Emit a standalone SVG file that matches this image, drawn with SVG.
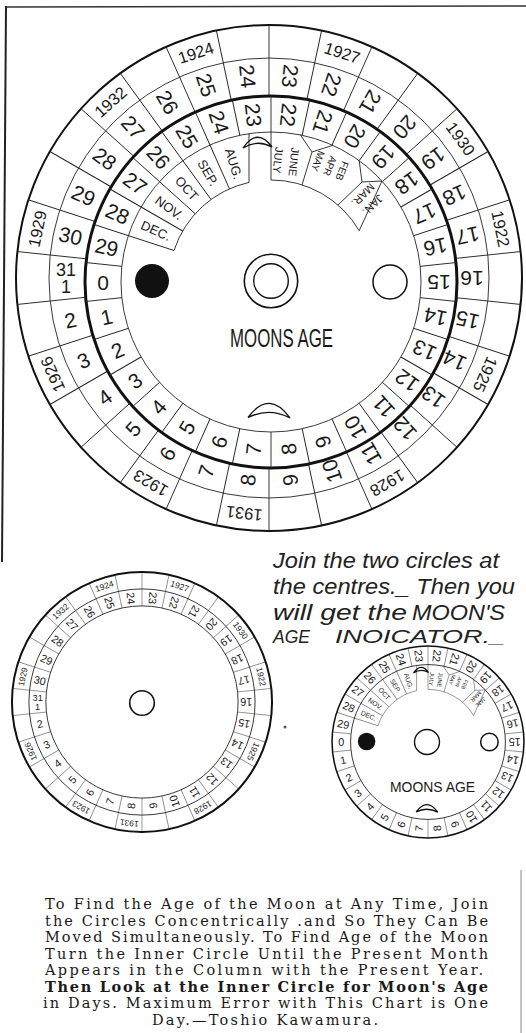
<svg xmlns="http://www.w3.org/2000/svg" width="526" height="1033" viewBox="0 0 526 1033">
<style>
.t{fill:none;stroke:#222;stroke-width:0.9;vector-effect:non-scaling-stroke}
.k{fill:none;stroke:#111;stroke-width:2;vector-effect:non-scaling-stroke}
.n text{font-family:"Liberation Sans",Arial,sans-serif;font-size:21px;text-anchor:middle;dominant-baseline:central;fill:#1a1a1a}
.y text{font-size:16.5px}
.m text{font-size:13px}
.s text{font-size:11px}
.f text{font-size:10px}
.hand{font-family:"Liberation Sans",Arial,sans-serif;font-style:italic;font-size:22px;fill:#222}
.p{font-family:"DejaVu Serif","Liberation Serif",serif;font-size:14.5px;fill:#1a1a1a}
</style>
<defs>
<g id="outerRings">
 <circle r="253" class="k"/>
 <circle r="220" class="t"/>
 <g class="t">
  <line y1="-175" y2="-253" transform="rotate(0)"/><line y1="-175" y2="-253" transform="rotate(12)"/><line y1="-175" y2="-253" transform="rotate(24)"/><line y1="-175" y2="-253" transform="rotate(36)"/><line y1="-175" y2="-253" transform="rotate(48)"/><line y1="-175" y2="-253" transform="rotate(60)"/><line y1="-175" y2="-253" transform="rotate(72)"/><line y1="-175" y2="-253" transform="rotate(84)"/><line y1="-175" y2="-253" transform="rotate(96)"/><line y1="-175" y2="-253" transform="rotate(108)"/><line y1="-175" y2="-253" transform="rotate(120)"/><line y1="-175" y2="-253" transform="rotate(132)"/><line y1="-175" y2="-253" transform="rotate(144)"/><line y1="-175" y2="-253" transform="rotate(156)"/><line y1="-175" y2="-253" transform="rotate(168)"/><line y1="-175" y2="-253" transform="rotate(180)"/><line y1="-175" y2="-253" transform="rotate(192)"/><line y1="-175" y2="-253" transform="rotate(204)"/><line y1="-175" y2="-253" transform="rotate(216)"/><line y1="-175" y2="-253" transform="rotate(228)"/><line y1="-175" y2="-253" transform="rotate(240)"/><line y1="-175" y2="-253" transform="rotate(252)"/><line y1="-175" y2="-253" transform="rotate(264)"/><line y1="-175" y2="-253" transform="rotate(276)"/><line y1="-175" y2="-253" transform="rotate(288)"/><line y1="-175" y2="-253" transform="rotate(300)"/><line y1="-175" y2="-253" transform="rotate(312)"/><line y1="-175" y2="-253" transform="rotate(324)"/><line y1="-175" y2="-253" transform="rotate(336)"/><line y1="-175" y2="-253" transform="rotate(348)"/>
 </g>
 <g class="n">
  <text transform="rotate(-6) translate(0,-203) rotate(90)">24</text>
  <text transform="rotate(6) translate(0,-203) rotate(90)">23</text>
  <text transform="rotate(18) translate(0,-203) rotate(90)">22</text>
  <text transform="rotate(30) translate(0,-203) rotate(90)">21</text>
  <text transform="rotate(42) translate(0,-203) rotate(90)">20</text>
  <text transform="rotate(54) translate(0,-203) rotate(90)">19</text>
  <text transform="rotate(66) translate(0,-203) rotate(90)">18</text>
  <text transform="rotate(78) translate(0,-203) rotate(90)">17</text>
  <text transform="rotate(90) translate(0,-203) rotate(90)">16</text>
  <text transform="rotate(102) translate(0,-203) rotate(90)">15</text>
  <text transform="rotate(114) translate(0,-203) rotate(90)">14</text>
  <text transform="rotate(126) translate(0,-203) rotate(90)">13</text>
  <text transform="rotate(138) translate(0,-203) rotate(90)">12</text>
  <text transform="rotate(150) translate(0,-203) rotate(90)">11</text>
  <text transform="rotate(162) translate(0,-203) rotate(90)">10</text>
  <text transform="rotate(174) translate(0,-203) rotate(90)">9</text>
  <text transform="rotate(186) translate(0,-203) rotate(90)">8</text>
  <text transform="rotate(198) translate(0,-203) rotate(90)">7</text>
  <text transform="rotate(210) translate(0,-203) rotate(90)">6</text>
  <text transform="rotate(222) translate(0,-203) rotate(90)">5</text>
  <text transform="rotate(234) translate(0,-203) rotate(90)">4</text>
  <text transform="rotate(246) translate(0,-203) rotate(90)">3</text>
  <text transform="rotate(258) translate(0,-203) rotate(90)">2</text>
  <g transform="rotate(270) translate(0,-203) rotate(90)"><text y="-8" style="font-size:18px">31</text><text y="9" style="font-size:18px">1</text></g>
  <text transform="rotate(282) translate(0,-203) rotate(90)">30</text>
  <text transform="rotate(294) translate(0,-203) rotate(90)">29</text>
  <text transform="rotate(306) translate(0,-203) rotate(90)">28</text>
  <text transform="rotate(318) translate(0,-203) rotate(90)">27</text>
  <text transform="rotate(330) translate(0,-203) rotate(90)">26</text>
  <text transform="rotate(342) translate(0,-203) rotate(90)">25</text>
 </g>
 <g class="n y">
  <text transform="rotate(-18) translate(0,-237)">1924</text>
  <text transform="rotate(18) translate(0,-237)">1927</text>
  <text transform="rotate(54) translate(0,-237)">1930</text>
  <text transform="rotate(78) translate(0,-237)">1922</text>
  <text transform="rotate(114) translate(0,-237)">1925</text>
  <text transform="rotate(150) translate(0,-237)">1928</text>
  <text transform="rotate(186) translate(0,-237)">1931</text>
  <text transform="rotate(210) translate(0,-237)">1923</text>
  <text transform="rotate(246) translate(0,-237)">1926</text>
  <text transform="rotate(282) translate(0,-237)">1929</text>
  <text transform="rotate(318) translate(0,-237)">1932</text>
 </g>
</g>
<g id="innerRings">
 <circle r="186" fill="#fff" stroke="#111" stroke-width="3"/>
 <circle r="150" class="t"/>
 <g class="t">
  <line y1="-150" y2="-186" transform="rotate(0)"/><line y1="-150" y2="-186" transform="rotate(12)"/><line y1="-150" y2="-186" transform="rotate(24)"/><line y1="-150" y2="-186" transform="rotate(36)"/><line y1="-150" y2="-186" transform="rotate(48)"/><line y1="-150" y2="-186" transform="rotate(60)"/><line y1="-150" y2="-186" transform="rotate(72)"/><line y1="-150" y2="-186" transform="rotate(84)"/><line y1="-150" y2="-186" transform="rotate(96)"/><line y1="-150" y2="-186" transform="rotate(108)"/><line y1="-150" y2="-186" transform="rotate(120)"/><line y1="-150" y2="-186" transform="rotate(132)"/><line y1="-150" y2="-186" transform="rotate(144)"/><line y1="-150" y2="-186" transform="rotate(156)"/><line y1="-150" y2="-186" transform="rotate(168)"/><line y1="-150" y2="-186" transform="rotate(180)"/><line y1="-150" y2="-186" transform="rotate(192)"/><line y1="-150" y2="-186" transform="rotate(204)"/><line y1="-150" y2="-186" transform="rotate(216)"/><line y1="-150" y2="-186" transform="rotate(228)"/><line y1="-150" y2="-186" transform="rotate(240)"/><line y1="-150" y2="-186" transform="rotate(252)"/><line y1="-150" y2="-186" transform="rotate(264)"/><line y1="-150" y2="-186" transform="rotate(276)"/><line y1="-150" y2="-186" transform="rotate(288)"/><line y1="-150" y2="-186" transform="rotate(300)"/><line y1="-150" y2="-186" transform="rotate(312)"/><line y1="-150" y2="-186" transform="rotate(324)"/><line y1="-150" y2="-186" transform="rotate(336)"/><line y1="-150" y2="-186" transform="rotate(348)"/>
  <line y1="-102" y2="-150" transform="rotate(-72)"/><line y1="-102" y2="-150" transform="rotate(-60)"/><line y1="-102" y2="-150" transform="rotate(-48)"/><line y1="-102" y2="-150" transform="rotate(-36)"/><line y1="-102" y2="-150" transform="rotate(-24)"/><line y1="-102" y2="-150"/>
  <line x1="-22" y1="-148.4" x2="-22" y2="-99.6"/>
  <path d="M-97.01,-31.52 A102,102 0 0 1 -22,-99.6"/>
  <path d="M0,-102 A102,102 0 0 1 88.2,-51.3"/>
  <polyline points="29.4,-147.1 41,-130 31,-97"/>
  <line x1="41" y1="-130" x2="61.7" y2="-136.7"/>
  <polyline points="67,-77 91,-100 88.2,-121.4"/>
  <polyline points="91,-100 111,-101 88.2,-51.3"/>
 </g>
 <g class="n">
  <text transform="rotate(270) translate(0,-168) rotate(90)">0</text>
  <text transform="rotate(258) translate(0,-168) rotate(90)">1</text>
  <text transform="rotate(246) translate(0,-168) rotate(90)">2</text>
  <text transform="rotate(234) translate(0,-168) rotate(90)">3</text>
  <text transform="rotate(222) translate(0,-168) rotate(90)">4</text>
  <text transform="rotate(210) translate(0,-168) rotate(90)">5</text>
  <text transform="rotate(198) translate(0,-168) rotate(90)">6</text>
  <text transform="rotate(186) translate(0,-168) rotate(90)">7</text>
  <text transform="rotate(174) translate(0,-168) rotate(90)">8</text>
  <text transform="rotate(162) translate(0,-168) rotate(90)">9</text>
  <text transform="rotate(150) translate(0,-168) rotate(90)">10</text>
  <text transform="rotate(138) translate(0,-168) rotate(90)">11</text>
  <text transform="rotate(126) translate(0,-168) rotate(90)">12</text>
  <text transform="rotate(114) translate(0,-168) rotate(90)">13</text>
  <text transform="rotate(102) translate(0,-168) rotate(90)">14</text>
  <text transform="rotate(90) translate(0,-168) rotate(90)">15</text>
  <text transform="rotate(78) translate(0,-168) rotate(90)">16</text>
  <text transform="rotate(66) translate(0,-168) rotate(90)">17</text>
  <text transform="rotate(54) translate(0,-168) rotate(90)">18</text>
  <text transform="rotate(42) translate(0,-168) rotate(90)">19</text>
  <text transform="rotate(30) translate(0,-168) rotate(90)">20</text>
  <text transform="rotate(18) translate(0,-168) rotate(90)">21</text>
  <text transform="rotate(6) translate(0,-168) rotate(90)">22</text>
  <text transform="rotate(-6) translate(0,-168) rotate(90)">23</text>
  <text transform="rotate(-18) translate(0,-168) rotate(90)">24</text>
  <text transform="rotate(-30) translate(0,-168) rotate(90)">25</text>
  <text transform="rotate(-42) translate(0,-168) rotate(90)">26</text>
  <text transform="rotate(-54) translate(0,-168) rotate(90)">27</text>
  <text transform="rotate(-66) translate(0,-168) rotate(90)">28</text>
  <text transform="rotate(-78) translate(0,-168) rotate(90)">29</text>
 </g>
 <g class="n m">
  <text transform="rotate(-66) translate(0,-126) rotate(90)">DEC.</text>
  <text transform="rotate(-54) translate(0,-126) rotate(90)">NOV.</text>
  <text transform="rotate(-42) translate(0,-126) rotate(90)">OCT</text>
  <text transform="rotate(-30) translate(0,-126) rotate(90)">SEP.</text>
  <text transform="rotate(-17.5) translate(0,-124) rotate(90)">AUG.</text>
 </g>
 <g class="n s" transform="translate(15,-121) rotate(96)"><text y="-8">JUNE</text><text y="8">JULY</text></g>
 <g class="n f" transform="translate(59,-116) rotate(112)"><text y="-13">FEB</text><text y="0">APR</text><text y="13">MAY</text></g>
 <g class="n s" transform="translate(97,-82) rotate(135)"><text y="-7">JAN.</text><text y="7">MAR.</text></g>
 <path d="M-28,-134 Q-13.5,-155 1,-135 Q-13.5,-143 -28,-134 Z" fill="#fff" class="k" style="stroke-width:1.3"/>
 <path d="M-23,135.5 Q-2,107 19,136 Q-2,125 -23,135.5 Z" fill="#fff" class="k" style="stroke-width:1.3"/>
 <circle cx="-119" cy="-1" r="17" fill="#111"/>
 <circle cx="119" cy="0" r="17" class="k" style="stroke-width:1.5"/>
</g>
</defs>
<rect width="526" height="1033" fill="#fff"/>
<g id="frame" fill="none">
 <line x1="5" y1="7" x2="526" y2="6" stroke="#333" stroke-width="1.5"/>
 <line x1="6" y1="6" x2="2" y2="562" stroke="#222" stroke-width="2"/>
 <line x1="521" y1="870" x2="521" y2="1033" stroke="#888" stroke-width="1"/>
</g>
<g id="big-outer-disc"><use href="#outerRings" transform="translate(269,278)"/></g>
<g id="big-inner-disc">
 <use href="#innerRings" transform="translate(271,282)"/>
 <circle cx="271" cy="281" r="26.7" class="k" style="stroke-width:1.6"/>
 <circle cx="271" cy="281" r="17.3" class="k" style="stroke-width:1.4"/>
 <text x="230" y="347" textLength="103" lengthAdjust="spacingAndGlyphs" style="font-family:'Liberation Sans',Arial,sans-serif;font-size:25px;fill:#1a1a1a">MOONS AGE</text>
</g>
<g id="small-outer-disc">
 <use href="#outerRings" transform="translate(142,702) scale(0.514)"/>
 <circle cx="142" cy="702" r="96.1" fill="#fff" stroke="#222" stroke-width="0.9"/>
 <circle cx="142" cy="703" r="12.3" fill="none" stroke="#111" stroke-width="1.6"/>
</g>
<g id="small-inner-disc">
 <use href="#innerRings" transform="translate(428,742) scale(0.516)"/>
 <circle cx="427" cy="742" r="12.5" fill="none" stroke="#111" stroke-width="1.4"/>
 <text x="390" y="792" textLength="85" lengthAdjust="spacingAndGlyphs" style="font-family:'Liberation Sans',Arial,sans-serif;font-size:14px;fill:#1a1a1a">MOONS AGE</text>
</g>
<circle id="speck" cx="285" cy="727" r="1.5" fill="#555"/>
<g id="note" class="hand">
 <text x="273" y="568" textLength="226" lengthAdjust="spacingAndGlyphs">Join the two circles at</text>
 <text x="273" y="594" textLength="242" lengthAdjust="spacingAndGlyphs">the centres._ Then you</text>
 <text x="273" y="620"><tspan textLength="134" lengthAdjust="spacingAndGlyphs">will get the</tspan><tspan x="412" textLength="93" lengthAdjust="spacingAndGlyphs">MOON'S</tspan></text>
 <text x="273" y="643"><tspan textLength="37" lengthAdjust="spacingAndGlyphs" style="font-size:19px">AGE</tspan><tspan x="335" textLength="170" lengthAdjust="spacingAndGlyphs" style="font-size:19px">INOICATOR._</tspan></text>
</g>
<g id="caption" class="p">
 <text x="45" y="909" textLength="443" lengthAdjust="spacing">To Find the Age of the Moon at Any Time, Join</text>
 <text x="45" y="925.5" textLength="443" lengthAdjust="spacing">the Circles Concentrically .and So They Can Be</text>
 <text x="45" y="942" textLength="443" lengthAdjust="spacing">Moved Simultaneously. To Find Age of the Moon</text>
 <text x="45" y="958.5" textLength="443" lengthAdjust="spacing">Turn the Inner Circle Until the Present Month</text>
 <text x="45" y="975" textLength="438" lengthAdjust="spacing">Appears in the Column with the Present Year.</text>
 <text x="45" y="991.5" textLength="443" lengthAdjust="spacing" font-weight="bold">Then Look at the Inner Circle for Moon's Age</text>
 <text x="43" y="1008" textLength="445" lengthAdjust="spacing">in Days. Maximum Error with This Chart is One</text>
 <text x="152" y="1025" textLength="226" lengthAdjust="spacing">Day.—Toshio  Kawamura.</text>
</g>
</svg>
